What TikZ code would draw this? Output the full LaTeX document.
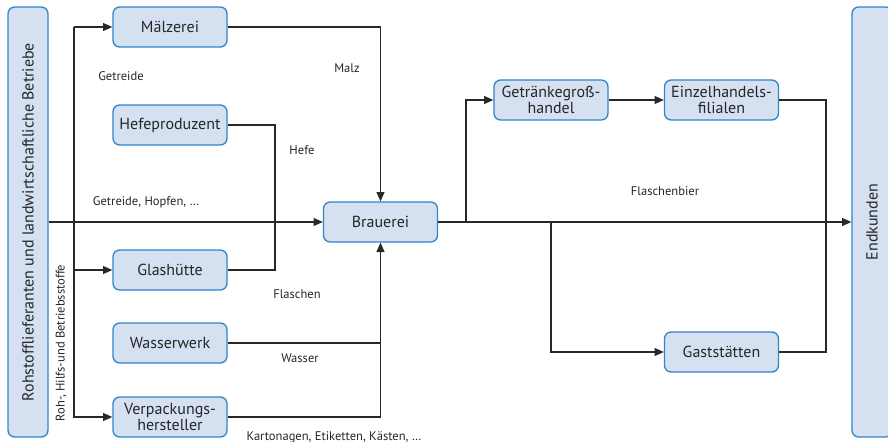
\documentclass[tikz,border=0pt]{standalone}
\usepackage{fontspec}
\setmainfont{PT Sans}
\usepackage{xcolor}
\usetikzlibrary{arrows.meta}

\definecolor{boxfill}{RGB}{213,224,241}
\definecolor{boxline}{RGB}{46,134,200}
\definecolor{flowline}{RGB}{40,40,40}

\newlength{\pxu}
\setlength{\pxu}{0.75pt}

\tikzset{
  stage/.style={draw=boxline, fill=boxfill, line width=1pt, rounded corners=5pt,
    minimum width=114\pxu, minimum height=40\pxu, inner sep=1pt, align=center,
    font=\fontsize{12}{12.5}\selectfont, text=black!85},
  sidebar/.style={draw=boxline, fill=boxfill, line width=1pt, rounded corners=5pt,
    minimum width=430\pxu, minimum height=40\pxu, inner sep=1pt,
    font=\fontsize{12}{13}\selectfont, text=black!85, rotate=90},
  flow/.style={draw=flowline, line width=0.9pt},
  flowto/.style={flow, -{Triangle[length=7pt, width=6pt]}},
  lbl/.style={inner sep=0.75pt, font=\fontsize{9.4}{11}\selectfont, text=black!85}
}

\begin{document}
\begin{tikzpicture}[x=0.75pt,y=0.75pt,yscale=-1,xscale=1]
    \useasboundingbox (0,0) rectangle (888,442);

    %Shape: side boxes
    \node [sidebar] (rohstoff) at (28,222) {Rohstofflieferanten und landwirtschaftliche Betriebe};
    \node [sidebar] (endkunden) at (872,222) {Endkunden};

    %Shape: suppliers
    \node [stage] (maelzerei) at (170,27) {Mälzerei};
    \node [stage] (hefe) at (170,125) {Hefeproduzent};
    \node [stage] (glas) at (170,270) {Glashütte};
    \node [stage] (wasser) at (170,343) {Wasserwerk};
    \node [stage] (verpackung) at (170,417) {Verpackungs-\\hersteller};

    %Shape: brewery and trade
    \node [stage] (brauerei) at (380.5,222) {Brauerei};
    \node [stage] (grosshandel) at (551,100) {Getränkegroß-\\handel};
    \node [stage] (filialen) at (721.5,100) {Einzelhandels-\\filialen};
    \node [stage] (gaststaetten) at (721.5,352) {Gaststätten};

    %Coordinates: branch points
    \coordinate (rohsplit) at (74,222);
    \coordinate (hefejoin) at (275,222);
    \coordinate (bierhub) at (466,222);
    \coordinate (gastsplit) at (551,222);
    \coordinate (endjoin) at (826,222);

    %Straight Lines: inputs
    \draw [flowto] (rohstoff.south |- rohsplit) -- (brauerei.west);
    \draw [flowto] (rohsplit |- maelzerei) |- (maelzerei.west);
    \draw [flowto] (rohsplit) |- (glas.west);
    \draw [flowto] (rohsplit) |- (verpackung.west);
    \draw [flow] (rohsplit) -- (rohsplit |- maelzerei);
    \draw [flowto] (maelzerei.east) -| (brauerei.north);
    \draw [flow] (hefe.east) -| (hefejoin) |- (glas.east);
    \draw [flowto] (wasser.east) -| (brauerei.south);
    \draw [flow] (verpackung.east) -| (brauerei.south);

    %Straight Lines: outputs
    \draw [flowto] (brauerei.east) -- (endkunden.north);
    \draw [flowto] (bierhub) |- (grosshandel.west);
    \draw [flowto] (grosshandel.east) -- (filialen.west);
    \draw [flowto] (gastsplit) |- (gaststaetten.west);
    \draw [flow] (filialen.east) -| (endjoin) |- (gaststaetten.east);

    % Text Node
    \node [lbl] (lgetreide) at (121,76) {Getreide};
    \node [lbl] (lhopfen) at (146,202) {Getreide, Hopfen, \dots};
    \node [lbl, rotate=90] (lroh) at (61,343) {Roh-, Hilfs-und Betriebsstoffe};
    \node [lbl] (lmalz) at (347,68) {Malz};
    \node [lbl] (lhefe) at (302,150) {Hefe};
    \node [lbl] (lflaschen) at (297,294) {Flaschen};
    \node [lbl] (lwasser) at (300,358) {Wasser};
    \node [lbl] (lkarton) at (334,437) {Kartonagen, Etiketten, Kästen, \dots};
    \node [lbl] (lbier) at (665,191) {Flaschenbier};

\end{tikzpicture}
\end{document}
